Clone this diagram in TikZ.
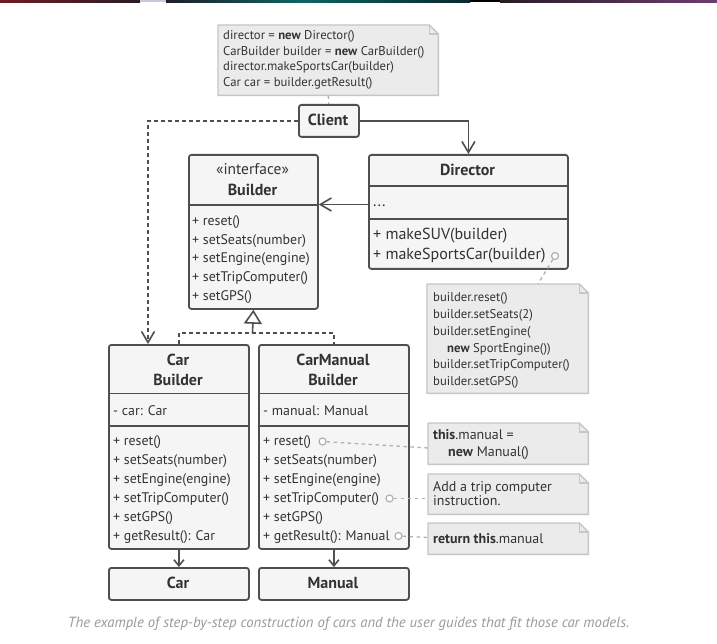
\documentclass[tikz,border=0pt]{standalone}
\usepackage{fontspec}
\setmainfont{PT Sans}
\usetikzlibrary{arrows.meta,calc}

\definecolor{ink}{HTML}{333333}
\definecolor{edge}{HTML}{4F4F4F}
\definecolor{boxfill}{HTML}{F5F5F5}
\definecolor{notefill}{HTML}{EBEBEB}
\definecolor{noteedge}{HTML}{C6C6C6}
\definecolor{linkgray}{HTML}{B0B0B0}
\definecolor{captiongray}{HTML}{9A9A9A}
% colours of the thin band along the top edge
\definecolor{bandred}{RGB}{112,28,36}
\definecolor{banddark}{RGB}{40,28,36}
\definecolor{bandpale}{RGB}{200,200,225}
\definecolor{bandnight}{RGB}{30,30,40}
\definecolor{bandteal}{RGB}{14,100,100}
\definecolor{banddeep}{RGB}{10,40,45}
\definecolor{bandplum}{RGB}{110,60,115}

\newcommand\fsz[1]{\fontsize{#1}{#1}\selectfont}

\tikzset{
  classbox/.style={draw=edge, fill=boxfill, line width=1.8pt, rounded corners=2.5pt,
                   inner sep=0pt, anchor=north west},
  divider/.style={draw=edge, line width=1.8pt},
  member/.style={anchor=base west, inner sep=0pt, text=ink, font=\fsz{13.9}},
  bigmember/.style={member, font=\fsz{16}},
  title/.style={anchor=base, inner sep=0pt, text=ink, font=\bfseries\fsz{16}},
  subtitle/.style={anchor=base, inner sep=0pt, text=ink, font=\fsz{15.5}},
  noteanchor/.style={inner sep=0pt, anchor=north west},
  noteline/.style={draw=noteedge, line width=1.4pt, line join=round},
  notetext/.style={anchor=base west, inner sep=0pt, text=ink, font=\fsz{12.7}},
  notetextlarge/.style={notetext, font=\fsz{14}},
  link/.style={draw=edge, line width=1.6pt},
  dashlink/.style={link, dash pattern=on 4pt off 3pt},
  opentip/.style={-{Straight Barb[length=11pt,width=13pt,line width=1.6pt]}},
  smalltip/.style={-{Straight Barb[length=6pt,width=10pt,line width=1.6pt]}},
  realize/.style={-{Triangle[open,length=14pt,width=18pt,line width=1.6pt]}},
  notelink/.style={draw=linkgray, line width=1.3pt, dash pattern=on 3.5pt off 3.5pt},
  hook/.style={circle, draw=linkgray, fill=white, line width=1.2pt,
               minimum size=7pt, inner sep=0pt}
}

% note with a folded top-right corner
\newcommand\drawnote[5]{%
  \node[noteanchor, minimum width=#4, minimum height=#5] (#1) at (#2,#3) {};
  \draw[noteline, fill=notefill] (#1.north west) -- ($(#1.north east)+(-9,0)$)
    -- ($(#1.north east)+(0,9)$) -- (#1.south east) -- (#1.south west) -- cycle;
  \draw[noteline] ($(#1.north east)+(-9,0)$) -- ($(#1.north east)+(-9,9)$)
    -- ($(#1.north east)+(0,9)$);
}

\begin{document}
\begin{tikzpicture}[x=1pt,y=-1pt]
\useasboundingbox (0,0) rectangle (717,644);
\fill[white] (0,0) rectangle (717,644);

% thin coloured band along the top edge
\shade[left color=bandred, right color=banddark] (0,0) rectangle (140,2.5);
\fill[bandpale] (140,0) rectangle (166,2.5);
\shade[left color=bandnight, right color=bandteal] (166,0) rectangle (300,2.5);
\shade[left color=bandteal, right color=banddeep] (300,0) rectangle (470,2.5);
\fill[black] (470,0) rectangle (500,2.5);
\shade[left color=banddark, right color=bandplum] (500,0) rectangle (717,2.5);

% ---------- client code note ----------
\drawnote{codenote}{218}{25}{220}{70}
\foreach [count=\k from 0] \mytext in {director = \textbf{new} Director(),
    CarBuilder builder = \textbf{new} CarBuilder(),
    director.makeSportsCar(builder), Car car = builder.getResult()}
  \node[notetext] (cn\k) at (223,{40+15.4*\k}) {\mytext};

% ---------- Client ----------
\node[classbox, minimum width=60, minimum height=32] (client) at (298,104) {};
\node[title] (clientname) at (328,125.5) {Client};
\draw[notelink] (codenote.south) -- (client.north);

% ---------- Builder interface ----------
\node[classbox, minimum width=129, minimum height=154] (builder) at (188,154) {};
\node[subtitle] (bstereo) at (252.5,175) {«interface»};
\node[title] (bname) at (252.5,195.5) {Builder};
\draw[divider] (188,205) -- (317,205);
\foreach [count=\k from 0] \mytext in {+ reset(), + setSeats(number), + setEngine(engine),
    + setTripComputer(), + setGPS()}
  \node[member] (bm\k) at (192,{225.5+18.7*\k}) {\mytext};

% ---------- Director ----------
\node[classbox, minimum width=199, minimum height=114] (director) at (368,154) {};
\node[title] (dname) at (467.5,175.5) {Director};
\draw[divider] (368,186) -- (567,186);
\node[bigmember] (dfield) at (373,206.5) {...};
\draw[divider] (368,219) -- (567,219);
\node[bigmember] (dm0) at (373,240) {+ makeSUV(builder)};
\node[bigmember] (dm1) at (373,260) {+ makeSportsCar(builder)};
\node[hook] (hk0) at (555,256) {};

% ---------- Director algorithm note ----------
\drawnote{algonote}{427}{284}{161}{109}
\foreach [count=\k from 0] \mytext in {builder.reset(), builder.setSeats(2), builder.setEngine(}
  \node[notetext] (an\k) at (433,{301.3+16.9*\k}) {\mytext};
\node[notetext] (an3) at (447,352) {\textbf{new} SportEngine())};
\node[notetext] (an4) at (433,368.9) {builder.setTripComputer()};
\node[notetext] (an5) at (433,385.8) {builder.setGPS()};
\draw[notelink] (hk0) -- ($(algonote.north west)+(111,0)$);

% ---------- CarBuilder ----------
\node[classbox, minimum width=140, minimum height=204] (carb) at (108,344) {};
\node[title] (cbn0) at (178,365.5) {Car};
\node[title] (cbn1) at (178,385.5) {Builder};
\draw[divider] (108,393.5) -- (248,393.5);
\node[member] (cbf) at (113,415) {- car: Car};
\draw[divider] (108,426) -- (248,426);
\foreach [count=\k from 0] \mytext in {+ reset(), + setSeats(number), + setEngine(engine),
    + setTripComputer(), + setGPS(), + getResult(): Car}
  \node[member] (cbm\k) at (113,{445.5+19*\k}) {\mytext};

% ---------- CarManualBuilder ----------
\node[classbox, minimum width=150, minimum height=204] (cmb) at (258,344) {};
\node[title] (cmn0) at (333,365.5) {CarManual};
\node[title] (cmn1) at (333,385.5) {Builder};
\draw[divider] (258,393.5) -- (408,393.5);
\node[member] (cmf) at (263,415) {- manual: Manual};
\draw[divider] (258,426) -- (408,426);
\foreach [count=\k from 0] \mytext in {+ reset(), + setSeats(number), + setEngine(engine),
    + setTripComputer(), + setGPS(), + getResult(): Manual}
  \node[member] (cmm\k) at (263,{445.5+19*\k}) {\mytext};
\node[hook] (hk1) at (322.5,441.5) {};
\node[hook] (hk2) at (389.5,498.5) {};
\node[hook] (hk3) at (398.5,536) {};

% ---------- products ----------
\node[classbox, minimum width=140, minimum height=32] (car) at (108,567) {};
\node[title] (carname) at (178,588.5) {Car};
\node[classbox, minimum width=150, minimum height=32] (manual) at (258,567) {};
\node[title] (manualname) at (333,588.5) {Manual};

% ---------- CarManualBuilder notes ----------
\drawnote{resetnote}{428}{423}{160}{41}
\node[notetextlarge] (rn0) at (433,439.5) {\textbf{this}.manual =};
\node[notetextlarge] (rn1) at (448,456.2) {\textbf{new} Manual()};
\drawnote{tripnote}{428}{474}{160}{40}
\node[notetextlarge] (tn0) at (433,491.5) {Add a trip computer};
\node[notetextlarge] (tn1) at (433,505) {instruction.};
\drawnote{resultnote}{428}{523}{160}{31}
\node[notetextlarge] (qn0) at (433,543.6) {\textbf{return this}.manual};
\draw[notelink] (hk1) -- ($(resetnote.north west)+(0,25)$);
\draw[notelink] (hk2) -- (hk2 -| tripnote.west);
\draw[notelink] (hk3) -- ($(resultnote.north west)+(0,14.5)$);

% ---------- relations ----------
\draw[link, opentip] (client.east) -| (director.north);
\draw[dashlink, opentip] (client.west) -| ($(carb.north west)+(40,0)$);
\coordinate (dots) at (368,204.5);
\draw[link, opentip] (dots) -- (builder.east |- dots);
\coordinate (realjoin) at (252.5,333);
\draw[dashlink] (carb.north) |- (realjoin) -| (cmb.north);
\draw[link, realize] (realjoin) -- (builder.south);
\draw[link, smalltip] (carb.south) -- (car.north);
\draw[link, smalltip] (cmb.south) -- (manual.north);

% ---------- caption ----------
\node[anchor=base, inner sep=0pt, text=captiongray, font=\itshape\fsz{14.7}] (caption)
  at (348.5,627.5) {The example of step-by-step construction of cars and the user guides that fit those car models.};
\end{tikzpicture}
\end{document}
